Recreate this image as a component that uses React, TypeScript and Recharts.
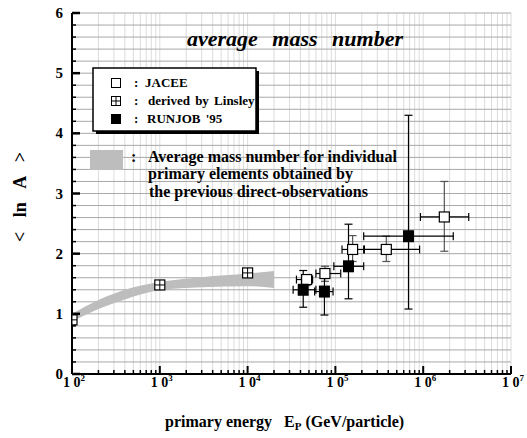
import React from 'react';
import { ComposedChart, Area, Scatter, XAxis, YAxis, CartesianGrid, ErrorBar } from 'recharts';

// axis ticks
const xDecades = [100, 1000, 10000, 100000, 1000000, 10000000];
const xDecadeExps = ['2', '3', '4', '5', '6', '7'];
const yMajor = [0, 1, 2, 3, 4, 5, 6];

// band: average mass number from earlier direct observations
const bandEnergy = [100, 200, 400, 1000, 3000, 10000, 20000];
const bandLow = [0.87, 1.08, 1.24, 1.39, 1.44, 1.46, 1.43];
const bandHigh = [1.0, 1.23, 1.4, 1.53, 1.61, 1.67, 1.71];

// derived by Linsley
const linsleyEnergy = [100, 1000, 10000];
const linsleyLnA = [0.9, 1.48, 1.68];

// JACEE
const jaceeEnergy = [47000, 76000, 157000, 380000, 1740000];
const jaceeEnergyLow = [36000, 60000, 119000, 210000, 930000];
const jaceeEnergyHigh = [55000, 115000, 214000, 910000, 3300000];
const jaceeLnA = [1.57, 1.67, 2.07, 2.07, 2.61];
const jaceeLnALow = [1.47, 1.54, 1.87, 1.87, 2.04];
const jaceeLnAHigh = [1.65, 1.79, 2.3, 2.29, 3.2];

// RUNJOB '95
const runjobEnergy = [43000, 75000, 141000, 680000];
const runjobEnergyLow = [33000, 58000, 96000, 210000];
const runjobEnergyHigh = [60000, 94000, 210000, 2200000];
const runjobLnA = [1.4, 1.37, 1.79, 2.29];
const runjobLnALow = [1.11, 0.98, 1.25, 1.08];
const runjobLnAHigh = [1.72, 1.6, 2.49, 4.3];

const xTicks: number[] = [];
xDecades.slice(0, -1).forEach((d) => {
  for (let m = 1; m <= 9; m++) xTicks.push(d * m);
});
xTicks.push(xDecades[xDecades.length - 1]);
const yTicks = Array.from({ length: 31 }, (_, i) => Math.round(i * 2) / 10);

const bandData = bandEnergy.map((e, i) => ({ e, band: [bandLow[i], bandHigh[i]] }));
const linsleyData = linsleyEnergy.map((e, i) => ({ e, y: linsleyLnA[i] }));
const withErrors = (en: number[], lo: number[], hi: number[], v: number[], vlo: number[], vhi: number[]) =>
  en.map((e, i) => ({
    e,
    y: v[i],
    ex: [e - lo[i], hi[i] - e],
    ey: [v[i] - vlo[i], vhi[i] - v[i]],
  }));
const jaceeData = withErrors(jaceeEnergy, jaceeEnergyLow, jaceeEnergyHigh, jaceeLnA, jaceeLnALow, jaceeLnAHigh);
const runjobData = withErrors(runjobEnergy, runjobEnergyLow, runjobEnergyHigh, runjobLnA, runjobLnALow, runjobLnAHigh);

const serif = { fontFamily: 'Liberation Serif, Times New Roman, serif', fontWeight: 700 } as const;
const axisLine = { stroke: '#000', strokeWidth: 2 };

const BottomTick = ({ x, y, payload }: any) => {
  const idx = xDecades.indexOf(payload.value);
  const major = idx >= 0;
  return (
    <g>
      <line x1={x} x2={x} y1={y} y2={y - (major ? 8 : 4)} stroke="#000" strokeWidth={major ? 2 : 1.5} />
      {major && (
        <text x={x + 2} y={y + 13} textAnchor="middle" fontSize={14} fill="#000" style={{ ...serif, whiteSpace: 'pre' }}>
          1 0<tspan dy={-6} fontSize={9}>{xDecadeExps[idx]}</tspan>
        </text>
      )}
    </g>
  );
};

const TopTick = ({ x, y, payload }: any) => {
  const major = xDecades.indexOf(payload.value) >= 0;
  return <line x1={x} x2={x} y1={y} y2={y + (major ? 8 : 4)} stroke="#000" strokeWidth={major ? 2 : 1.5} />;
};

const LeftTick = ({ x, y, payload }: any) => {
  const major = yMajor.indexOf(payload.value) >= 0;
  return (
    <g>
      <line x1={x} x2={x + (major ? 8 : 4)} y1={y} y2={y} stroke="#000" strokeWidth={major ? 2.5 : 1.5} />
      {major && (
        <text x={x - 9} y={y + 5} textAnchor="end" fontSize={15} fill="#000" style={serif}>
          {payload.value}
        </text>
      )}
    </g>
  );
};

const RightTick = ({ x, y, payload }: any) => {
  const major = yMajor.indexOf(payload.value) >= 0;
  return <line x1={x} x2={x - (major ? 8 : 4)} y1={y} y2={y} stroke="#000" strokeWidth={major ? 2.5 : 1.5} />;
};

const OpenSquare = ({ cx, cy }: any) => (
  <rect x={cx - 5} y={cy - 5} width={10} height={10} fill="#fff" stroke="#000" strokeWidth={1.2} />
);
const CrossSquare = ({ cx, cy }: any) => (
  <g>
    <rect x={cx - 5} y={cy - 5} width={10} height={10} fill="#fff" stroke="#000" strokeWidth={1.2} />
    <line x1={cx - 5} x2={cx + 5} y1={cy} y2={cy} stroke="#000" strokeWidth={1} />
    <line x1={cx} x2={cx} y1={cy - 5} y2={cy + 5} stroke="#000" strokeWidth={1} />
  </g>
);
const FilledSquare = ({ cx, cy }: any) => <rect x={cx - 5.5} y={cy - 6} width={11} height={12} fill="#000" />;

export default function App() {
  return (
    <div style={{ position: 'absolute', left: 0, top: 0, width: 527, height: 438, background: '#fff' }}>
      <ComposedChart width={527} height={438} margin={{ top: 13, right: 16, bottom: 0, left: 52 }}>
        <CartesianGrid horizontal={false} stroke="#dcdcdc" strokeWidth={1} />
        <CartesianGrid vertical={false} stroke="#a8a8a8" strokeWidth={1} />
        <XAxis
          dataKey="e"
          type="number"
          scale="log"
          domain={[100, 10000000]}
          allowDataOverflow
          ticks={xTicks}
          interval={0}
          tickSize={0}
          tickMargin={0}
          height={64}
          axisLine={axisLine}
          tick={BottomTick}
        />
        <XAxis
          xAxisId="top"
          orientation="top"
          type="number"
          scale="log"
          domain={[100, 10000000]}
          allowDataOverflow
          ticks={xTicks}
          interval={0}
          tickSize={0}
          tickMargin={0}
          height={0}
          axisLine={axisLine}
          tick={TopTick}
        />
        <YAxis
          type="number"
          domain={[0, 6]}
          allowDataOverflow
          ticks={yTicks}
          interval={0}
          tickSize={0}
          tickMargin={0}
          width={20}
          axisLine={axisLine}
          tick={LeftTick}
        />
        <YAxis
          yAxisId="right"
          orientation="right"
          type="number"
          domain={[0, 6]}
          allowDataOverflow
          ticks={yTicks}
          interval={0}
          tickSize={0}
          tickMargin={0}
          width={0}
          axisLine={axisLine}
          tick={RightTick}
        />
        <Area
          data={bandData}
          dataKey="band"
          type="monotone"
          fill="#bdbdbd"
          fillOpacity={1}
          stroke="none"
          isAnimationActive={false}
        />
        <Scatter data={linsleyData} dataKey="y" shape={CrossSquare} isAnimationActive={false} />
        <Scatter data={jaceeData} dataKey="y" shape={OpenSquare} isAnimationActive={false}>
          <ErrorBar dataKey="ex" direction="x" width={4} stroke="#000" strokeWidth={1.2} />
          <ErrorBar dataKey="ey" direction="y" width={4} stroke="#555" strokeWidth={1.2} />
        </Scatter>
        <Scatter data={runjobData} dataKey="y" shape={FilledSquare} isAnimationActive={false}>
          <ErrorBar dataKey="ex" direction="x" width={4} stroke="#000" strokeWidth={1.2} />
          <ErrorBar dataKey="ey" direction="y" width={4} stroke="#000" strokeWidth={1.2} />
        </Scatter>
      </ComposedChart>
      <svg width={527} height={438} style={{ position: 'absolute', left: 0, top: 0, pointerEvents: 'none' }}>
        <g fill="#000" style={serif}>
          <text x={295} y={46} textAnchor="middle" fontSize={22} style={{ ...serif, fontStyle: 'italic', wordSpacing: 9 }}>
            average mass number
          </text>
          <rect x={93} y={68} width={163} height={63} fill="#fff" stroke="#000" strokeWidth={1.5} />
          <path d="M96 132.5 H257.5 V71" fill="none" stroke="#000" strokeWidth={3} />
          <rect x={111.5} y={78.5} width={9} height={9} fill="#fff" stroke="#000" strokeWidth={1} />
          <rect x={111.5} y={96.5} width={9} height={9} fill="#fff" stroke="#000" strokeWidth={1} />
          <line x1={111.5} x2={120.5} y1={101} y2={101} stroke="#000" strokeWidth={1} />
          <line x1={116} x2={116} y1={96.5} y2={105.5} stroke="#000" strokeWidth={1} />
          <rect x={111} y={114} width={10} height={10} fill="#000" />
          <text x={134} y={87} fontSize={13}>:</text>
          <text x={134} y={105} fontSize={13}>:</text>
          <text x={134} y={123} fontSize={13}>:</text>
          <text x={145} y={87} fontSize={13}>JACEE</text>
          <text x={148} y={105} fontSize={13} style={{ ...serif, wordSpacing: 2 }}>derived by Linsley</text>
          <text x={147} y={123} fontSize={13} style={{ ...serif, wordSpacing: 2 }}>RUNJOB '95</text>
          <rect x={90} y={150} width={33} height={20} fill="#bdbdbd" />
          <text x={131} y={162} fontSize={16}>:</text>
          <text x={148} y={162} fontSize={16}>Average mass number for individual</text>
          <text x={148} y={179} fontSize={16}>primary elements obtained by</text>
          <text x={149} y={197} fontSize={16}>the previous direct-observations</text>
          <text
            x={22}
            y={197}
            transform="rotate(-90 22 197)"
            textAnchor="middle"
            dominantBaseline="middle"
            fontSize={18}
            style={{ ...serif, wordSpacing: 10 }}
          >
            &lt; ln A &gt;
          </text>
          <text x={165} y={427} fontSize={16} style={{ ...serif, whiteSpace: 'pre' }}>
            primary energy   E<tspan dy={3} fontSize={11}>P</tspan>
            <tspan dy={-3}> (GeV/particle)</tspan>
          </text>
        </g>
      </svg>
    </div>
  );
}
